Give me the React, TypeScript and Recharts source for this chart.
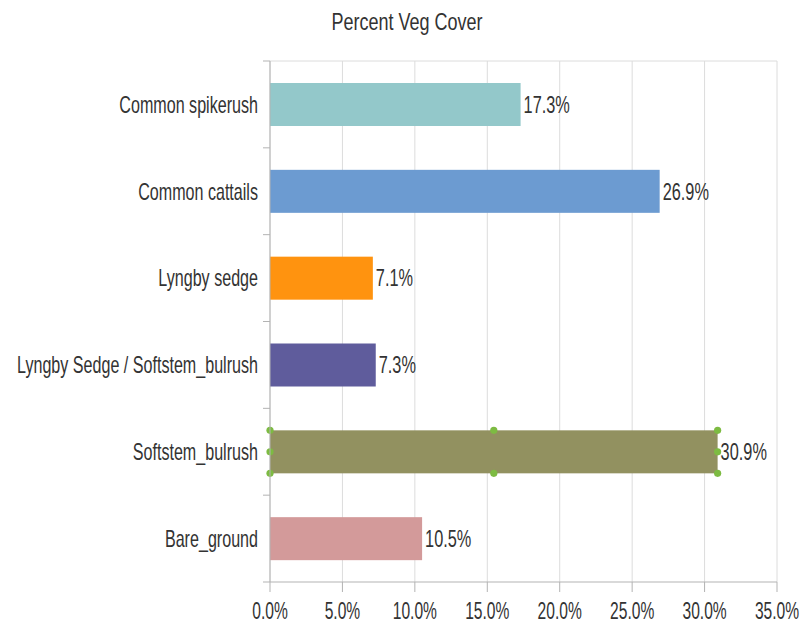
import React from 'react';
import { BarChart, Bar, XAxis, YAxis, CartesianGrid, LabelList, Cell } from 'recharts';

// Percent vegetation cover by category
const categories = [
  'Common spikerush',
  'Common cattails',
  'Lyngby sedge',
  'Lyngby Sedge / Softstem_bulrush',
  'Softstem_bulrush',
  'Bare_ground',
];
const coverPercent = [17.3, 26.9, 7.1, 7.3, 30.9, 10.5];
const barColors = ['#93c8ca', '#6c9bd1', '#ff930f', '#5f5c9c', '#929160', '#d39a9a'];
const xTicks = [0, 5, 10, 15, 20, 25, 30, 35];
const selectedCategory = 'Softstem_bulrush';

const data = categories.map((name, i) => ({ name, value: coverPercent[i] }));

const W = 807;
const H = 635;
const MARGIN = { top: 61, right: 30, bottom: 0, left: 0 };
const Y_AXIS_W = 270;
const X_AXIS_H = 53;
const PLOT_H = H - MARGIN.top - MARGIN.bottom - X_AXIS_H;
const BAND = PLOT_H / categories.length;

const FONT = "'Liberation Sans', Arial, sans-serif";
const TEXT = '#333333';
const AXIS = '#b3b3b3';
const GRID = '#dcdcdc';
const HANDLE = '#7dbb42';

function CategoryTick(props: any) {
  const { y, payload, index } = props;
  const axisX = Y_AXIS_W;
  const top = y - BAND / 2;
  const bottom = y + BAND / 2;
  return (
    <g>
      <line x1={axisX - 7} x2={axisX} y1={top} y2={top} stroke={AXIS} />
      {index === categories.length - 1 && (
        <line x1={axisX - 7} x2={axisX} y1={bottom} y2={bottom} stroke={AXIS} />
      )}
      <text
        transform={`translate(${axisX - 12},${y}) scale(0.7,1)`}
        textAnchor="end"
        dy="0.36em"
        fontSize={23}
        fill={TEXT}
        fontFamily={FONT}
      >
        {payload.value}
      </text>
    </g>
  );
}

function PercentTick(props: any) {
  const { x, y, payload } = props;
  return (
    <text
      transform={`translate(${x},${y + 25}) scale(0.65,1)`}
      textAnchor="middle"
      fontSize={24}
      fill={TEXT}
      fontFamily={FONT}
    >
      {`${Number(payload.value).toFixed(1)}%`}
    </text>
  );
}

function ValueLabel(props: any) {
  const { x, y, width, height, value } = props;
  return (
    <text
      transform={`translate(${x + width + 3},${y + height / 2}) scale(0.71,1)`}
      dy="0.36em"
      fontSize={23}
      fill={TEXT}
      fontFamily={FONT}
    >
      {`${Number(value).toFixed(1)}%`}
    </text>
  );
}

// Bar with selection handles drawn around the highlighted category
function CoverBar(props: any) {
  const { x, y, width, height, fill, payload } = props;
  const rect = <rect x={x} y={y} width={width} height={height} fill={fill} />;
  if (!payload || payload.name !== selectedCategory) return rect;
  const xs = [x, x + width / 2, x + width];
  const ys = [y, y + height / 2, y + height];
  const handles: React.ReactNode[] = [];
  xs.forEach((hx, i) =>
    ys.forEach((hy, j) => {
      if (i === 1 && j === 1) return;
      handles.push(<circle key={`${i}-${j}`} cx={hx} cy={hy} r={3.6} fill={HANDLE} />);
    })
  );
  return (
    <g>
      {rect}
      {handles}
    </g>
  );
}

export default function App() {
  return (
    <div style={{ position: 'absolute', left: 0, top: 0, width: W, height: H, background: '#ffffff' }}>
      <svg
        width={W}
        height={50}
        style={{ position: 'absolute', left: 0, top: 0, pointerEvents: 'none' }}
      >
        <text
          transform={`translate(${407},${30}) scale(0.75,1)`}
          textAnchor="middle"
          fontSize={24}
          fill={TEXT}
          fontFamily={FONT}
        >
          Percent Veg Cover
        </text>
      </svg>
      <BarChart
        width={W}
        height={H}
        data={data}
        layout="vertical"
        margin={MARGIN}
        barSize={43}
      >
        <CartesianGrid
          stroke={GRID}
          horizontalPoints={[MARGIN.top]}
          vertical={true}
          horizontal={true}
        />
        <XAxis
          type="number"
          domain={[0, 35]}
          ticks={xTicks}
          interval={0}
          height={X_AXIS_H}
          tickSize={10}
          tickLine={{ stroke: AXIS }}
          axisLine={{ stroke: AXIS }}
          tick={<PercentTick />}
        />
        <YAxis
          type="category"
          dataKey="name"
          width={Y_AXIS_W}
          interval={0}
          tickLine={false}
          axisLine={{ stroke: AXIS }}
          tick={<CategoryTick />}
        />
        <Bar dataKey="value" isAnimationActive={false} shape={<CoverBar />}>
          {data.map((d, i) => (
            <Cell key={d.name} fill={barColors[i]} />
          ))}
          <LabelList dataKey="value" content={<ValueLabel />} />
        </Bar>
      </BarChart>
    </div>
  );
}
